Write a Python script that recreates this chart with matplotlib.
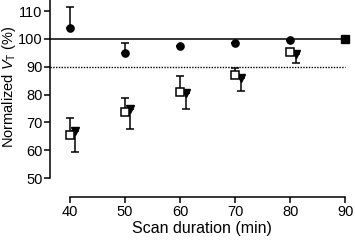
import numpy as np
import matplotlib
matplotlib.use("Agg")
import matplotlib.pyplot as plt

plt.rcParams['font.family'] = ['Liberation Sans', 'DejaVu Sans']
plt.rcParams['mathtext.fontset'] = 'custom'
plt.rcParams['mathtext.rm'] = 'Liberation Sans'
plt.rcParams['mathtext.it'] = 'Liberation Sans:italic'

# scan durations (min)
x = np.array([40, 50, 60, 70, 80])

# filled circles, upper error only
circ_y = [103.8, 94.9, 97.6, 98.7, 99.5]
circ_err = [7.8, 3.8, 0, 0, 0]

# open squares, upper error only
sq_y = [65.4, 73.9, 80.8, 87.0, 95.4]
sq_err = [6.1, 4.8, 6.0, 2.7, 0]

# filled triangles (shifted +1 min), lower error only
tri_y = [67.0, 74.7, 80.5, 85.9, 94.5]
tri_err = [7.5, 7.2, 5.7, 4.5, 3.2]

ref_x, ref_y = 90, 100

fig = plt.figure(figsize=(3.55, 2.43), dpi=100)
ax = fig.add_axes([0.141, 0.189, 0.855, 0.811])

xmax_frac = (90 - 36.4) / (91.5 - 36.4)
ax.axhline(100, xmin=0, xmax=xmax_frac, color='black', lw=1.1, zorder=1)
ax.axhline(90, xmin=0, xmax=xmax_frac, color='black', lw=1.0, ls=(0, (1, 1)), zorder=1)

ax.errorbar(x, circ_y, yerr=[np.zeros(5), circ_err], fmt='o', color='black',
            ms=5.2, capsize=3, elinewidth=1.1, capthick=1.1, zorder=3)
ax.errorbar(x, sq_y, yerr=[np.zeros(5), sq_err], fmt='s', color='black', mfc='white',
            mew=1.1, ms=5.2, capsize=3, elinewidth=1.1, capthick=1.1, zorder=3)
ax.errorbar(x + 1, tri_y, yerr=[tri_err, np.zeros(5)], fmt='v', color='black',
            ms=5.8, capsize=3, elinewidth=1.1, capthick=1.1, zorder=2)
ax.plot([ref_x], [ref_y], 's', color='black', ms=5.5, zorder=4, clip_on=False)

ax.set_xlim(36.4, 91.5)
ax.set_ylim(43.2, 114)
ax.spines['top'].set_visible(False)
ax.spines['right'].set_visible(False)
ax.spines['left'].set_bounds(50, 114)
ax.spines['bottom'].set_bounds(40, 90)
ax.spines['left'].set_linewidth(1.1)
ax.spines['bottom'].set_linewidth(1.1)
ax.set_xticks([40, 50, 60, 70, 80, 90])
ax.set_yticks([50, 60, 70, 80, 90, 100, 110])
ax.tick_params(labelsize=10.5, width=1.1, length=4, pad=1.5)
ax.set_xlabel('Scan duration (min)', fontsize=11.5, labelpad=2)
ax.set_ylabel(r'Normalized $V_\mathrm{T}$ (%)', fontsize=10.5, labelpad=1)
ax.yaxis.set_label_coords(-0.105, 0.56)

fig.savefig('out.png', dpi=100)
